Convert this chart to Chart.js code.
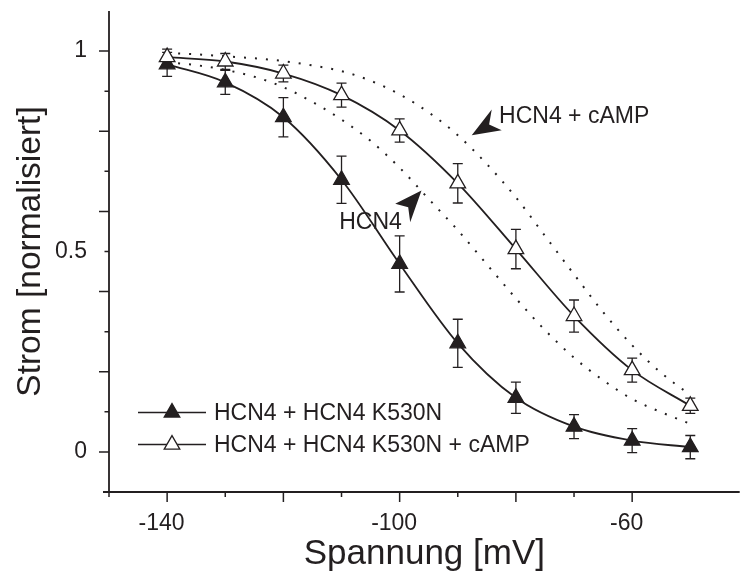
<!DOCTYPE html>
<html>
<head>
<meta charset="utf-8">
<script src="https://cdn.jsdelivr.net/npm/chart.js@4.4.1/dist/chart.umd.min.js"></script>
<style>
  html, body { margin: 0; padding: 0; background: #fff; }
  #wrap { width: 750px; height: 572px; }
</style>
</head>
<body>
<div id="wrap"><canvas id="chartIV"></canvas></div>
<script>
// measured points (mean +/- error), every 10 mV
const voltage = [-140, -130, -120, -110, -100, -90, -80, -70, -60, -50];
const mutant = [0.967, 0.922, 0.835, 0.679, 0.469, 0.271, 0.135, 0.063, 0.028, 0.012];
const mutantErr = [0.03, 0.03, 0.049, 0.059, 0.07, 0.06, 0.039, 0.03, 0.03, 0.029];
const mutantCamp = [0.985, 0.974, 0.944, 0.890, 0.802, 0.670, 0.506, 0.339, 0.204, 0.115];
const mutantCampErr = [0.02, 0.02, 0.021, 0.03, 0.029, 0.049, 0.049, 0.04, 0.03, 0.019];

// dotted reference curves (wild type), read every 5 mV
const refVoltage = [-140, -135, -130, -125, -120, -115, -110, -105, -100, -95, -90, -85, -80, -75, -70, -65, -60, -55, -50];
const wildType = [0.972, 0.965, 0.953, 0.936, 0.910, 0.873, 0.829, 0.776, 0.709, 0.631, 0.553, 0.468, 0.383, 0.304, 0.235, 0.179, 0.132, 0.099, 0.070];
const wildTypeCamp = [0.995, 0.992, 0.987, 0.982, 0.975, 0.964, 0.950, 0.926, 0.892, 0.847, 0.790, 0.718, 0.635, 0.539, 0.443, 0.349, 0.266, 0.197, 0.142];

const seriesLabels = ["HCN4 + HCN4 K530N", "HCN4 + HCN4 K530N + cAMP"];
const xLabelValues = [-140, -100, -60];
const yLabelValues = [0, 0.5, 1];
const yLabels = ["0", "0.5", "1"];

const ink = "#231f20";
const family = "'Liberation Sans', Arial, Helvetica, sans-serif";

const toXY = (xs, ys) => xs.map((x, i) => ({ x: x, y: ys[i] }));

function triangle(ctx, x, y, r, fill) {
  ctx.beginPath();
  ctx.moveTo(x, y - r);
  ctx.lineTo(x + r * 0.866, y + r / 2);
  ctx.lineTo(x - r * 0.866, y + r / 2);
  ctx.closePath();
  ctx.fillStyle = fill;
  ctx.fill();
  ctx.stroke();
}

// error bars under the markers
const errorBars = {
  id: "errorBars",
  beforeDatasetsDraw(chart) {
    const ctx = chart.ctx;
    const y = chart.scales.y;
    ctx.save();
    ctx.strokeStyle = ink;
    ctx.lineWidth = 1.3;
    chart.data.datasets.forEach((ds, i) => {
      if (!ds.errors) return;
      chart.getDatasetMeta(i).data.forEach((pt, j) => {
        const v = ds.data[j].y;
        const top = y.getPixelForValue(v + ds.errors[j]);
        const bot = y.getPixelForValue(v - ds.errors[j]);
        ctx.beginPath();
        ctx.moveTo(pt.x, top); ctx.lineTo(pt.x, bot);
        ctx.moveTo(pt.x - 5, top); ctx.lineTo(pt.x + 5, top);
        ctx.moveTo(pt.x - 5, bot); ctx.lineTo(pt.x + 5, bot);
        ctx.stroke();
      });
    });
    ctx.restore();
  }
};

// axis lines with major / minor tick marks
const axisLines = {
  id: "axisLines",
  afterDraw(chart) {
    const ctx = chart.ctx;
    const { left, right, top, bottom } = chart.chartArea;
    ctx.save();
    ctx.strokeStyle = ink;
    ctx.lineWidth = 1.8;
    ctx.beginPath();
    ctx.moveTo(left - 6, bottom); ctx.lineTo(right, bottom);
    ctx.moveTo(left, top); ctx.lineTo(left, bottom + 1);
    ctx.stroke();
    ctx.lineWidth = 1.5;
    ctx.beginPath();
    chart.scales.x.ticks.forEach(t => {
      if (t.value % 10 !== 0) return;
      const px = chart.scales.x.getPixelForValue(t.value);
      const len = (t.value + 140) % 20 === 0 ? 10 : 5;
      ctx.moveTo(px, bottom); ctx.lineTo(px, bottom + len);
    });
    chart.scales.y.ticks.forEach(t => {
      const tenth = Math.round(t.value * 10);
      if (tenth < 0 || tenth > 10) return;
      const py = chart.scales.y.getPixelForValue(t.value);
      const len = tenth % 2 === 0 ? 10 : 4.5;
      ctx.moveTo(left, py); ctx.lineTo(left - len, py);
    });
    ctx.stroke();
    ctx.restore();
  }
};

// legend inside the plot, lower left (filled series first)
const innerLegend = {
  id: "innerLegend",
  afterDraw(chart) {
    const ctx = chart.ctx;
    const { left, bottom } = chart.chartArea;
    ctx.save();
    ctx.strokeStyle = ink;
    ctx.font = "23px " + family;
    ctx.textBaseline = "middle";
    [1, 0].forEach((dsIndex, row) => {
      const ds = chart.data.datasets[dsIndex];
      const ly = bottom - 79.4 + row * 32;
      ctx.lineWidth = 1.5;
      ctx.beginPath();
      ctx.moveTo(left + 29, ly); ctx.lineTo(left + 97, ly);
      ctx.stroke();
      ctx.lineWidth = 1.3;
      triangle(ctx, left + 63, ly, 9, ds.pointBackgroundColor);
      ctx.fillStyle = ink;
      ctx.fillText(ds.label, left + 105, ly + 1);
    });
    ctx.restore();
  }
};

// arrow annotations for the dotted curves
const notes = [
  { text: "HCN4 + cAMP", x: -82.9, y: 0.820, tipX: -87.6, tipY: 0.790, shape: [[20, -25.7], [17.4, -10.7], [30, -5]] },
  { text: "HCN4", x: -110.4, y: 0.557, tipX: -96.24, tipY: 0.652, shape: [[-26.3, 13.3], [-13.3, 16.7], [-11.3, 31.7]] }
];
const arrowNotes = {
  id: "arrowNotes",
  afterDraw(chart) {
    const ctx = chart.ctx;
    const xs = chart.scales.x, ys = chart.scales.y;
    ctx.save();
    ctx.fillStyle = ink;
    ctx.font = "23px " + family;
    ctx.textBaseline = "alphabetic";
    notes.forEach(n => {
      const tx = xs.getPixelForValue(n.tipX), ty = ys.getPixelForValue(n.tipY);
      ctx.beginPath();
      ctx.moveTo(tx, ty);
      n.shape.forEach(p => ctx.lineTo(tx + p[0], ty + p[1]));
      ctx.closePath();
      ctx.fill();
      ctx.fillText(n.text, xs.getPixelForValue(n.x), ys.getPixelForValue(n.y));
    });
    ctx.restore();
  }
};

new Chart(document.querySelector("#chartIV"), {
  type: "line",
  data: {
    datasets: [
      {
        label: seriesLabels[1],
        data: toXY(voltage, mutantCamp),
        errors: mutantCampErr,
        borderColor: ink,
        borderWidth: 1.8,
        cubicInterpolationMode: "monotone",
        pointStyle: "triangle",
        pointRadius: 9,
        pointBorderWidth: 1.3,
        pointBorderColor: ink,
        pointBackgroundColor: "#ffffff",
        order: 0,
      },
      {
        label: seriesLabels[0],
        data: toXY(voltage, mutant),
        errors: mutantErr,
        borderColor: ink,
        borderWidth: 1.8,
        cubicInterpolationMode: "monotone",
        pointStyle: "triangle",
        pointRadius: 9,
        pointBorderWidth: 1.3,
        pointBorderColor: ink,
        pointBackgroundColor: ink,
        order: 1,
      },
      {
        label: "HCN4",
        data: toXY(refVoltage, wildType),
        borderColor: ink,
        borderWidth: 2,
        borderDash: [2, 9],
        cubicInterpolationMode: "monotone",
        pointRadius: 0,
        order: 2,
      },
      {
        label: "HCN4 + cAMP",
        data: toXY(refVoltage, wildTypeCamp),
        borderColor: ink,
        borderWidth: 2,
        borderDash: [2, 9],
        cubicInterpolationMode: "monotone",
        pointRadius: 0,
        order: 3,
      },
    ],
  },
  options: {
    responsive: true,
    maintainAspectRatio: false,
    animation: false,
    events: [],
    layout: { padding: { top: 11, right: 0, bottom: 0, left: 0 } },
    plugins: {
      legend: { display: false },
      tooltip: { enabled: false },
    },
    scales: {
      x: {
        type: "linear",
        min: -150,
        max: -41.5,
        grid: { display: false, drawTicks: false },
        border: { display: false },
        ticks: {
          stepSize: 10,
          autoSkip: false,
          maxRotation: 0,
          padding: 17.5,
          labelOffset: -5.5,
          color: ink,
          font: { family: family, size: 23 },
          callback: (v) => (xLabelValues.includes(v) ? String(v) : ""),
        },
        title: {
          display: true,
          text: "Spannung [mV]",
          color: ink,
          font: { family: family, size: 35, lineHeight: 1 },
          padding: { top: 0, bottom: 0.5 },
        },
        afterFit: (s) => { s.height = 80; s.paddingLeft = 0; s.paddingRight = 0; },
      },
      y: {
        min: -0.1,
        max: 1.1,
        grid: { display: false, drawTicks: false },
        border: { display: false },
        ticks: {
          stepSize: 0.1,
          autoSkip: false,
          padding: 22,
          color: ink,
          font: { family: family, size: 23 },
          callback: (v) => {
            const k = yLabelValues.findIndex((t) => Math.abs(t - v) < 1e-6);
            return k < 0 ? "" : yLabels[k];
          },
        },
        title: {
          display: true,
          text: "Strom [normalisiert]",
          color: ink,
          font: { family: family, size: 33.5, lineHeight: 1.2 },
          padding: { top: 11, bottom: 0 },
        },
        afterFit: (s) => { s.width = 109; s.paddingTop = 0; s.paddingBottom = 0; },
      },
    },
  },
  plugins: [errorBars, axisLines, innerLegend, arrowNotes],
});
</script>
</body>
</html>
